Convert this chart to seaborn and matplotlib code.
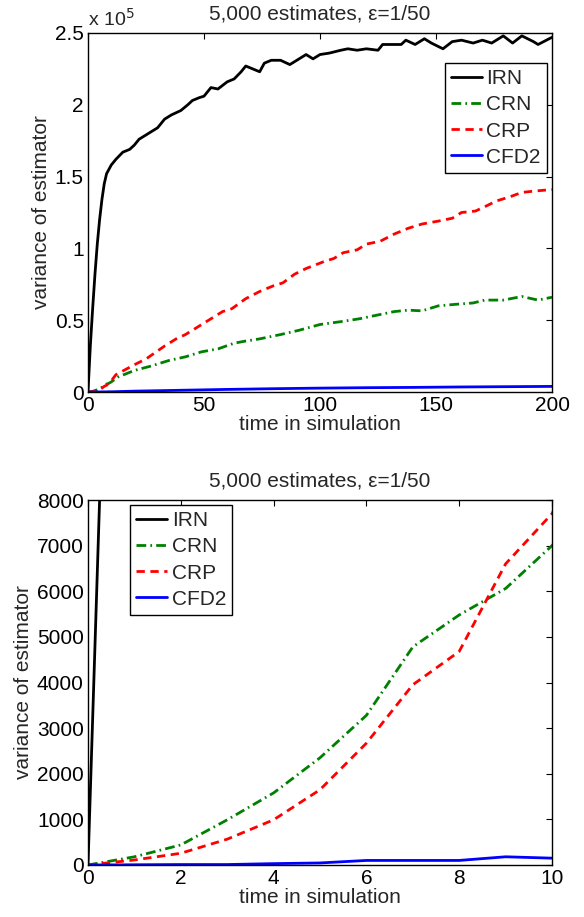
import numpy as np
import pandas as pd
import matplotlib
matplotlib.use("Agg")
import matplotlib.pyplot as plt
import seaborn as sns
from matplotlib.ticker import FuncFormatter

# ---------------- data ----------------
irn_t = [0, 1, 2, 3, 4, 5, 6, 7, 8, 9, 10, 12, 15, 18, 20, 22, 25, 28, 30, 33, 36, 40, 43, 45, 48,
         50, 53, 56, 60, 63, 66, 68, 71, 74, 76, 79, 83, 87, 91, 94, 97, 100, 104, 109, 112,
         116, 120, 125, 127, 132, 135, 137, 141, 145, 148, 153, 157, 161, 166, 170, 174, 179,
         183, 187, 192, 194, 200]
irn_v = [0, 32000, 58000, 82000, 103000, 120000, 134000, 145000, 152000, 155000, 158000,
         162000, 167000, 169000, 172000, 176000, 179000, 182000, 184000, 190000, 193000,
         196000, 200000, 203000, 205000, 206000, 212000, 211000, 216000, 218000, 223000,
         227000, 225000, 223000, 229000, 231000, 231000, 228000, 232000, 235000, 232000,
         235000, 236000, 238000, 239000, 238000, 239000, 238000, 242000, 242000, 242000,
         245000, 242000, 246000, 243000, 239000, 244000, 245000, 243000, 245000, 243000,
         248000, 243000, 248000, 244000, 242000, 247000]

crn_t = [0, 1, 2, 3, 4, 5, 6, 7, 8, 9, 10, 13, 20, 27, 35, 42, 49, 56, 63, 68, 74, 83, 91,
         100, 109, 117, 126, 132, 138, 144, 151, 158, 166, 171, 179, 187, 194, 200]
crn_v = [0, 180, 440, 990, 1580, 2350, 3280, 4780, 5480, 6060, 7000, 10500, 15000, 18000,
         22000, 24500, 28000, 30000, 34000, 35500, 37000, 40000, 43000, 47000, 49000, 51000,
         54000, 56000, 57000, 56500, 60000, 61000, 62000, 64000, 64000, 66500, 64000, 66000]

crp_t = [0, 1, 2, 3, 4, 5, 6, 7, 8, 9, 10, 12, 20, 25, 33, 38, 42, 46, 51, 58, 62, 68, 74,
         80, 84, 89, 94, 102, 106, 110, 116, 120, 126, 132, 135, 138, 144, 151, 157, 161,
         167, 171, 176, 182, 187, 193, 200]
crp_v = [0, 110, 257, 566, 990, 1650, 2670, 3950, 4680, 6600, 7700, 12000, 19000, 23000,
         32000, 37000, 40000, 44000, 49000, 56000, 58000, 65000, 70000, 74000, 76000, 82000,
         86000, 91000, 93000, 97000, 99000, 103000, 105000, 110000, 112000, 114000, 117000,
         119000, 121000, 125000, 126000, 129000, 133000, 136000, 139000, 140000, 141000]

cfd_t = [0, 1, 2, 3, 4, 5, 6, 7, 8, 9, 10, 20, 40, 60, 80, 100, 120, 140, 160, 180, 200]
cfd_v = [0, 5, 10, 10, 30, 45, 100, 100, 100, 180, 150, 600, 1200, 1800, 2300, 2700, 3000,
         3200, 3500, 3700, 3900]

labels = ["IRN", "CRN", "CRP", "CFD2"]
title = "5,000 estimates, \u03b5=1/50"
xlabel = "time in simulation"
ylabel = "variance of estimator"

# ---------------- style ----------------
sns.set_style("white")
plt.rcParams["font.family"] = ["Liberation Sans", "DejaVu Sans"]
FS = 15

series = [
    (irn_t, irn_v, "black", None),
    (crn_t, crn_v, "#008000", [3.5, 1.5, 0.6, 1.5]),
    (crp_t, crp_v, "#ff0000", [3, 2]),
    (cfd_t, cfd_v, "#0000ff", None),
]

fig = plt.figure(figsize=(5.84, 9.17), dpi=100)
ax1 = fig.add_axes([88 / 584, 1 - 392 / 917, 464 / 584, 359 / 917])
ax2 = fig.add_axes([88 / 584, 1 - 865 / 917, 464 / 584, 365 / 917])


def draw(ax):
    handles = []
    for (t, v, c, d), lab in zip(series, labels):
        df = pd.DataFrame({"t": t, "v": v})
        sns.lineplot(data=df, x="t", y="v", ax=ax, color=c, lw=2, estimator=None,
                     sort=False, label=lab, legend=False)
        ln = ax.lines[-1]
        if d is not None:
            ln.set_dashes(d)
        handles.append(ln)
    for sp in ax.spines.values():
        sp.set_linewidth(1.0)
        sp.set_color("black")
    ax.tick_params(direction="in", length=4, width=0.8, top=True, right=True,
                   labelsize=FS, colors="black", pad=3)
    ax.set_xlabel(xlabel, fontsize=FS, labelpad=0)
    ax.set_ylabel(ylabel, fontsize=FS, labelpad=3)
    ax.set_title(title, fontsize=FS, pad=10)
    return handles


legkw = dict(fontsize=FS, frameon=True, fancybox=False, framealpha=1, edgecolor="black",
             handlelength=1.5, handletextpad=0.2, labelspacing=0.34,
             borderpad=0.3, borderaxespad=0.0)

h1 = draw(ax1)
ax1.set_xlim(0, 200)
ax1.set_ylim(0, 250000)
ax1.set_xticks([0, 50, 100, 150, 200])
ax1.set_yticks([0, 50000, 100000, 150000, 200000, 250000])
ax1.yaxis.set_major_formatter(FuncFormatter(lambda v, p: f"{v / 1e5:g}"))
ax1.text(0.0, 1.008, r"x 10$^5$", transform=ax1.transAxes, fontsize=FS - 1,
         ha="left", va="bottom")
leg1 = ax1.legend(handles=h1, labels=labels, loc="upper right",
                  bbox_to_anchor=(0.989, 0.916), **legkw)
leg1.get_frame().set_linewidth(1.0)

h2 = draw(ax2)
ax2.set_xlim(0, 10)
ax2.set_ylim(0, 8000)
ax2.set_xticks([0, 2, 4, 6, 8, 10])
ax2.set_yticks(list(range(0, 8001, 1000)))
leg2 = ax2.legend(handles=h2, labels=labels, loc="upper left",
                  bbox_to_anchor=(0.0905, 0.986), **legkw)
leg2.get_frame().set_linewidth(1.0)

fig.savefig("out.png", dpi=100)
